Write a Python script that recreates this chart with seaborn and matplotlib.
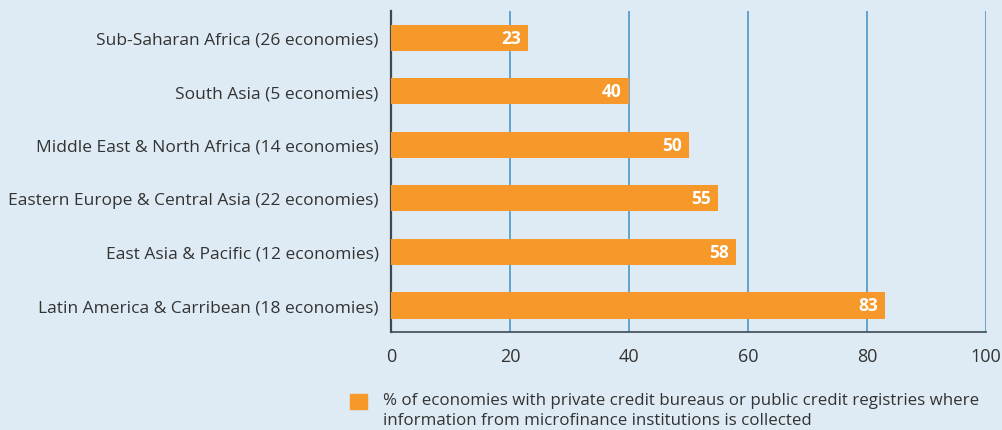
import matplotlib
matplotlib.use("Agg")
import matplotlib.pyplot as plt
import seaborn as sns
import pandas as pd

regions = [
    "Sub-Saharan Africa (26 economies)",
    "South Asia (5 economies)",
    "Middle East & North Africa (14 economies)",
    "Eastern Europe & Central Asia (22 economies)",
    "East Asia & Pacific (12 economies)",
    "Latin America & Carribean (18 economies)",
]
shares = [23, 40, 50, 55, 58, 83]
x_ticks = [0, 20, 40, 60, 80, 100]
legend_text = ("% of economies with private credit bureaus or public credit registries where\n"
               "information from microfinance institutions is collected")

bg = "#deebf4"
orange = "#f7992a"
grid_blue = "#3f8fc4"
dark = "#3b4a55"
text_col = "#333333"

sns.set_style("white")
plt.rcParams["font.family"] = ["Open Sans", "DejaVu Sans"]

df = pd.DataFrame({"region": regions, "share": shares})

fig = plt.figure(figsize=(10.03, 4.31), dpi=100, facecolor=bg)
ax = fig.add_axes([0.390, 0.227, 0.593, 0.745])
ax.set_facecolor(bg)

sns.barplot(data=df, x="share", y="region", color=orange, width=0.49,
            saturation=1, linewidth=0, ax=ax, zorder=3)

ax.set_xlim(0, 100)
ax.set_ylim(5.5, -0.5)
ax.set_xticks(x_ticks)
ax.set_xticklabels([str(t) for t in x_ticks], fontsize=13, color=text_col)
ax.tick_params(axis="x", length=0, pad=11)
ax.tick_params(axis="y", length=0, pad=9, labelsize=12.5, labelcolor=text_col)
ax.set_xlabel("")
ax.set_ylabel("")

for t in x_ticks[1:]:
    ax.axvline(t, color=grid_blue, lw=1.1, zorder=1)

for s in ["top", "right"]:
    ax.spines[s].set_visible(False)
ax.spines["left"].set_color(dark)
ax.spines["left"].set_linewidth(1.6)
ax.spines["bottom"].set_color(dark)
ax.spines["bottom"].set_linewidth(1.2)

for i, v in enumerate(shares):
    ax.text(v - 1.2, i, str(v), ha="right", va="center", color="white",
            fontsize=12.5, fontweight="bold", zorder=4)

fig.patches.append(plt.Rectangle((350 / 1003, 1 - 410 / 431), 17 / 1003, 15 / 431,
                                 transform=fig.transFigure, color=orange))
fig.text(383 / 1003, 1 - 393 / 431, legend_text, ha="left", va="top",
         fontsize=12.2, color=text_col, linespacing=1.3)

fig.savefig("out.png", dpi=100, facecolor=bg)
